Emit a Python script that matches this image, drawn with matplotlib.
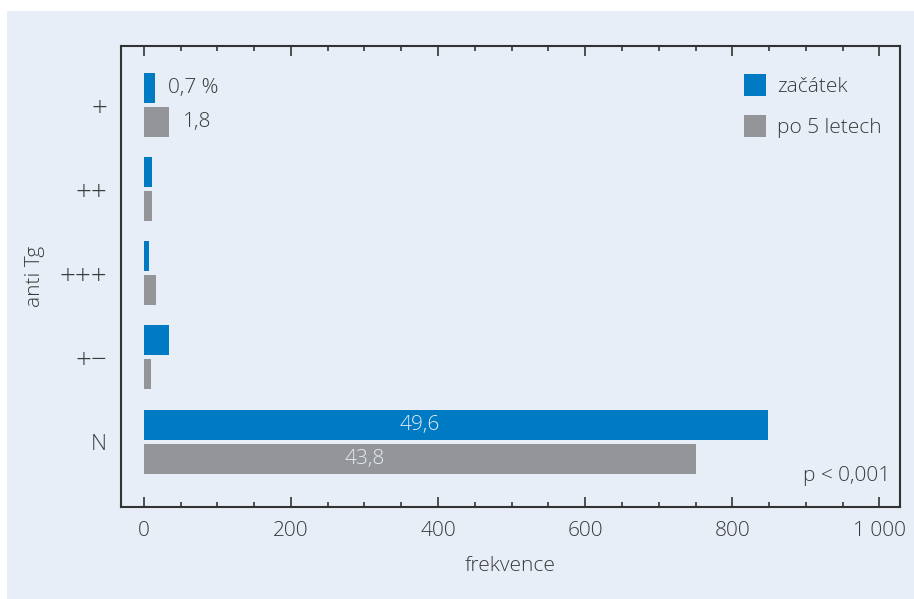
import matplotlib
matplotlib.use("Agg")
import matplotlib.pyplot as plt
from matplotlib.patches import Rectangle
from matplotlib.ticker import MultipleLocator, FuncFormatter

categories = ["+", "++", "+++", "+\u2212", "N"]
zacatek = [15, 11, 7, 34, 848]
po5 = [34, 11, 16, 10, 750]
series_names = ["začátek", "po 5 letech"]
blue_labels = ["0,7 %", "", "", "", "49,6"]
gray_labels = ["1,8", "", "", "", "43,8"]

BG = "#E7EEF8"
BLUE = "#007AC3"
GRAY = "#939598"
TXT = "#3a3a3a"
SP = "#333333"
FS = 15

plt.rcParams['font.family'] = ['Open Sans', 'DejaVu Sans']
plt.rcParams['font.weight'] = 'light'

fig = plt.figure(figsize=(9.14, 5.99), dpi=100)
fig.patch.set_facecolor("white")
fig.add_artist(Rectangle((7/914, 0), 1, 1 - 11/599, transform=fig.transFigure,
                         facecolor=BG, edgecolor="none", zorder=-10))

ax = fig.add_axes([121/914, 1 - 506.7/599, (900 - 121)/914, (506.7 - 46)/599])
ax.set_facecolor(BG)

y = list(range(len(categories)))
h = 0.357
off = 0.202
ax.barh([v - off for v in y], zacatek, height=h, color=BLUE, label=series_names[0])
ax.barh([v + off for v in y], po5, height=h, color=GRAY, label=series_names[1])

ax.set_ylim(4.774, -0.702)
ax.set_xlim(-31, 1028)
ax.set_yticks(y)
ax.set_yticklabels(categories)
ax.tick_params(axis='y', length=0, pad=10, labelsize=16, labelcolor=TXT)

ax.xaxis.set_major_locator(MultipleLocator(200))
ax.xaxis.set_minor_locator(MultipleLocator(50))
ax.xaxis.set_major_formatter(FuncFormatter(lambda v, p: f"{int(v):,}".replace(",", " ")))
ax.tick_params(axis='x', which='major', direction='in', length=7, width=1.2, color=SP,
               top=True, bottom=True, labelsize=FS, labelcolor=TXT, pad=10)
ax.tick_params(axis='x', which='minor', direction='in', length=3.5, width=1.2, color=SP,
               top=True, bottom=True)
for t in ax.get_xticklabels() + ax.get_yticklabels():
    t.set_fontweight('light')
for t in ax.get_yticklabels():
    if t.get_text() != "N":
        t.set_fontsize(20)

for s in ax.spines.values():
    s.set_color(SP)
    s.set_linewidth(1.5)

ax.set_xlabel("frekvence", fontsize=FS, color=TXT, labelpad=11, fontweight='light')
ax.set_ylabel("anti Tg", fontsize=FS, color=TXT, fontweight='light')
ax.yaxis.set_label_coords(-0.097, 0.5)

# small value labels
ax.annotate(blue_labels[0], (zacatek[0], 0 - off), xytext=(9.5, 0), textcoords='offset points',
            va='center', ha='left', fontsize=FS, color=TXT, fontweight='light')
ax.annotate(gray_labels[0], (po5[0], 0 + off), xytext=(10, 0), textcoords='offset points',
            va='center', ha='left', fontsize=FS, color=TXT, fontweight='light')
# labels inside N bars
ax.text(375, 4 - off, blue_labels[4], ha='center', va='center', fontsize=FS,
        color="#E3ECF6", fontweight='light')
ax.text(301, 4 + off, gray_labels[4], ha='center', va='center', fontsize=FS,
        color="#E3ECF6", fontweight='light')

ax.text(0.988, 0.045, "p < 0,001", transform=ax.transAxes, ha='right', va='bottom',
        fontsize=FS, color=TXT, fontweight='light')

leg = ax.legend(loc='upper right', frameon=False, fontsize=FS, handlelength=1.1,
                handleheight=1.25, handletextpad=0.5, labelspacing=0.85,
                bbox_to_anchor=(0.995, 0.97), borderaxespad=0.3)
for t in leg.get_texts():
    t.set_color(TXT)
    t.set_fontweight('light')

fig.savefig("out.png", dpi=100, facecolor=fig.get_facecolor())
